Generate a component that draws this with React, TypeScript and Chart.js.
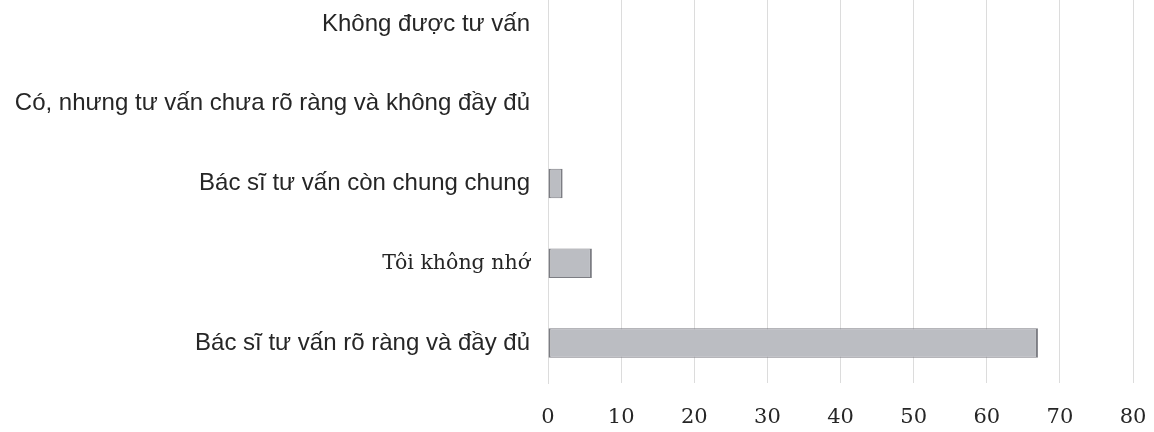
import { useEffect, useRef } from "react";
import { Chart, registerables } from "chart.js";

Chart.register(...registerables);

const categories = [
  "Không được tư vấn",
  "Có, nhưng tư vấn chưa rõ ràng và không đầy đủ",
  "Bác sĩ tư vấn còn chung chung",
  "Tôi không nhớ",
  "Bác sĩ tư vấn rõ ràng và đầy đủ",
];
const values = [0, 0, 2, 6, 67];
const serifLabels = ["Tôi không nhớ"];
const xMin = 0;
const xMax = 80;
const xStep = 10;

export default function App() {
  const ref = useRef<HTMLCanvasElement>(null);
  useEffect(() => {
    const chart = new Chart(ref.current!, {
      type: "bar",
      data: {
        labels: categories,
        datasets: [
          {
            data: values,
            backgroundColor: "#bbbdc2",
            borderColor: "#7c7d83",
            borderWidth: { left: 2, right: 2, top: 1, bottom: 1 },
            borderSkipped: false,
            categoryPercentage: 1,
            barPercentage: 0.37,
          },
        ],
      },
      options: {
        indexAxis: "y",
        responsive: false,
        animation: false,
        devicePixelRatio: 1,
        layout: { padding: { top: 22, right: 21, bottom: 1, left: 0 } },
        plugins: { legend: { display: false }, tooltip: { enabled: false } },
        scales: {
          x: {
            min: xMin,
            max: xMax,
            afterFit: (s: any) => {
              s.height = 46;
              s.paddingLeft = 0;
              s.paddingRight = 0;
            },
            ticks: {
              stepSize: xStep,
              padding: 22,
              color: "#262626",
              font: { family: "'DejaVu Serif'", size: 21 },
            },
            grid: { color: "#dcdcdc", drawTicks: false, lineWidth: 1 },
            border: { display: false },
          },
          y: {
            afterFit: (s: any) => {
              s.width = 548;
              s.paddingTop = 0;
              s.paddingBottom = 0;
            },
            ticks: {
              padding: 18,
              color: "#262626",
              font: (ctx: any) => {
                const lbl = categories[ctx.index];
                return serifLabels.includes(lbl)
                  ? { family: "'DejaVu Serif'", size: 20.5 }
                  : { family: "'Liberation Sans'", size: 24 };
              },
            },
            grid: { display: false, drawTicks: false },
            border: { display: true, color: "#dcdcdc", width: 1 },
          },
        },
      },
    });
    return () => chart.destroy();
  }, []);
  return (
    <div style={{ position: "fixed", left: 0, top: -38, width: 1154, height: 470, background: "#fff", overflow: "hidden" }}>
      <canvas ref={ref} width={1154} height={468} style={{ width: 1154, height: 468, display: "block" }} />
    </div>
  );
}
